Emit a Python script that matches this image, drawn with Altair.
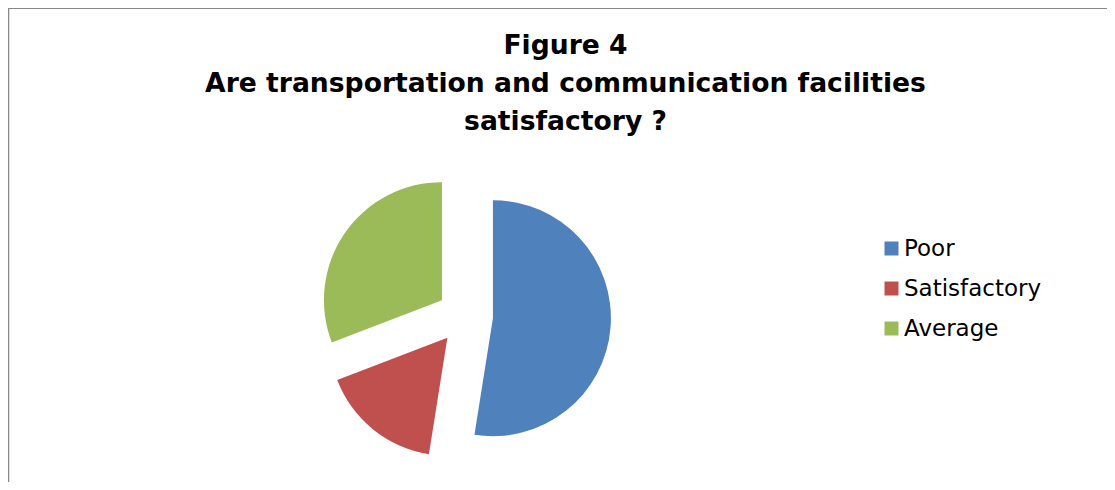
import altair as alt
import pandas as pd

categories = ["Poor", "Satisfactory", "Average"]
counts = [63, 20, 37]
colors = ["#4F81BD", "#C0504D", "#9BBB59"]
title_lines = ["Figure 4", "Are transportation and communication facilities", "satisfactory ?"]

W, H = 1099, 474
CX, CY = 457, 308
R = 118
EXPLODE = 28

df = pd.DataFrame({"category": categories, "count": counts,
                   "order": list(range(len(categories)))})

pie = alt.Chart(df).transform_window(
    cum="sum(count)", sort=[alt.SortField("order")], frame=[None, 0]
).transform_joinaggregate(
    total="sum(count)"
).transform_calculate(
    t1="2*PI*(datum.cum - datum.count)/datum.total",
    t2="2*PI*datum.cum/datum.total",
).transform_calculate(
    mid="(datum.t1 + datum.t2)/2"
).transform_calculate(
    cx=f"{CX} + {EXPLODE}*sin(datum.mid)",
    cy=f"{CY} - {EXPLODE}*cos(datum.mid)",
).mark_arc(outerRadius=R).encode(
    theta=alt.Theta("t1:Q", scale=None, stack=None),
    theta2="t2:Q",
    x=alt.X("cx:Q", scale=None, axis=None),
    y=alt.Y("cy:Q", scale=None, axis=None),
    color=alt.Color(
        "category:N",
        scale=alt.Scale(domain=categories, range=colors),
        sort=categories,
        legend=alt.Legend(
            title=None, orient="none", legendX=872, legendY=229,
            symbolType="square", symbolSize=196, symbolStrokeWidth=0,
            labelFontSize=23, labelFont="DejaVu Sans", labelColor="black",
            rowPadding=16, labelOffset=1, padding=0,
        ),
    ),
)

border_data = alt.Data(values=[{"k": 1}])
left_rule = alt.Chart(border_data).mark_rule(color="#888888", strokeWidth=2.5).encode(
    x=alt.value(0), y=alt.value(0), y2=alt.value(H)
)
top_rule = alt.Chart(border_data).mark_rule(color="#888888", strokeWidth=2).encode(
    x=alt.value(0), x2=alt.value(W), y=alt.value(0)
)

chart = alt.layer(left_rule, top_rule, pie).properties(
    width=W, height=H,
    title=alt.TitleParams(
        text=title_lines, fontSize=26.6, font="DejaVu Sans", fontWeight="bold",
        lineHeight=38, anchor="middle", offset=-150, baseline="alphabetic",
        color="black", dx=8,
    ),
    autosize=alt.AutoSizeParams(type="none"),
    padding=0,
).configure_view(stroke=None).configure(background="white")

chart.save("out.html", embed_options={"renderer": "svg", "actions": False})
